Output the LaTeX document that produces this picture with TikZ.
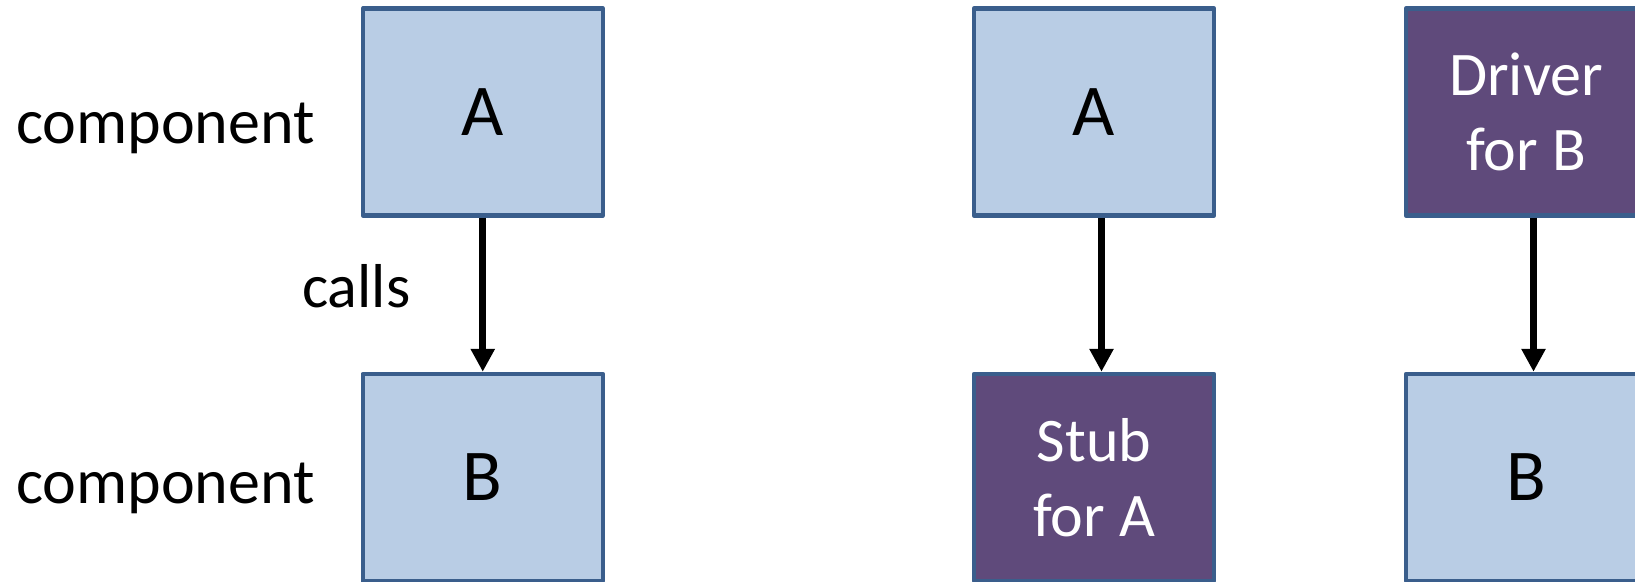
\documentclass[tikz,border=0pt]{standalone}
\usepackage{fontspec}
\setmainfont{Carlito}
\usetikzlibrary{arrows.meta}
\definecolor{boxblue}{HTML}{B9CDE5}
\definecolor{boxline}{HTML}{3A5E8C}
\definecolor{boxpurple}{HTML}{5F4A7B}
\begin{document}
\begin{tikzpicture}[x=1pt,y=-1pt,
  unit/.style={draw=boxline, line width=4.5pt, line join=round,
    minimum width=240pt, minimum height=207pt, inner sep=0pt},
  real/.style={unit, fill=boxblue, font=\fontsize{73}{88}\selectfont},
  fake/.style={unit, fill=boxpurple, text=white, align=center,
    font=\fontsize{62}{75}\selectfont},
  label/.style={anchor=base west, inner sep=0pt},
  calls/.style={line width=7pt, -{Triangle[width=23pt,length=23pt]}}]
\useasboundingbox (0,0) rectangle (1635,581);
\clip (0,0) rectangle (1635,581);

% left: A calls B
\node[real] (a1) at (482.75,112) {A};
\node[real] (b1) at (482.75,477.5) {B};
\node[label, font=\fontsize{64}{77}\selectfont] (c1) at (16,143) {component};
\node[label, font=\fontsize{64}{77}\selectfont] (c2) at (16,503) {component};
\node[label, font=\fontsize{62}{75}\selectfont] (lc) at (302,307) {calls};
\draw[calls] (a1.south) -- (b1.north);

% middle: A tested with a stub
\node[real] (a2) at (1094,112) {A};
\node[fake] (stub) at (1094,477.5) {Stub\\for A};
\draw[calls] ([xshift=7.5pt]a2.south) -- ([xshift=7.5pt]stub.north);

% right: B tested with a driver
\node[fake] (drv) at (1526,112) {Driver\\for B};
\node[real] (b3) at (1526,477.5) {B};
\draw[calls] ([xshift=7.5pt]drv.south) -- ([xshift=7.5pt]b3.north);
\end{tikzpicture}
\end{document}
